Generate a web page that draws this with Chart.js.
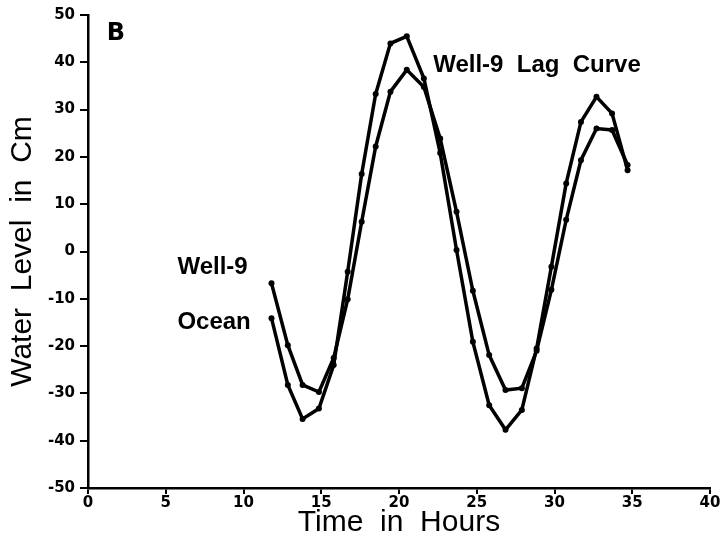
<!DOCTYPE html>
<html>
<head>
<meta charset="utf-8">
<script src="https://cdn.jsdelivr.net/npm/chart.js@4.4.1/dist/chart.umd.min.js"></script>
<style>
    body { margin: 0; background: #ffffff; }
    #wrap { width: 722px; height: 539px; }
</style>
</head>
<body>
<div id="wrap"><canvas id="wellLagChart" width="722" height="539"></canvas></div>
<script>
// hourly readings
const hours = [11.8, 12.85, 13.8, 14.85, 15.8, 16.7, 17.6, 18.5, 19.45, 20.5, 21.6, 22.65,
    23.7, 24.75, 25.8, 26.85, 27.9, 28.85, 29.8, 30.75, 31.7, 32.7, 33.7, 34.7];
const well9 = [-6.7, -19.8, -28.2, -29.7, -22.5, -10.1, 6.3, 22.2, 33.8, 38.4, 34.8, 23.9,
    8.4, -8.3, -21.9, -29.3, -28.9, -21, -8.1, 6.7, 19.3, 26.0, 25.7, 18.3];
const ocean = [-14.1, -28.2, -35.4, -33.2, -24, -4.3, 16.4, 33.3, 44.0, 45.5, 36.6, 20.8,
    0.3, -19.1, -32.5, -37.7, -33.5, -20.5, -3.2, 14.4, 27.4, 32.7, 29.2, 17.2];
const seriesNames = ['Well-9', 'Ocean'];

const tickFont = { family: '"DejaVu Sans", sans-serif', size: 15, weight: 'bold' };
const titleFont = { family: '"Liberation Sans", Arial, sans-serif', size: 30, weight: 'normal', lineHeight: 1 };

// text labels placed in data units
const curveLabels = {
    id: 'curveLabels',
    afterDraw(chart) {
        const ctx = chart.ctx;
        const x = chart.scales.x;
        const y = chart.scales.y;
        ctx.save();
        ctx.fillStyle = '#000000';
        ctx.textBaseline = 'middle';
        ctx.textAlign = 'left';
        ctx.font = 'bold 24px "Liberation Sans", Arial, sans-serif';
        ctx.fillText('Well-9  Lag  Curve', x.getPixelForValue(22.2), y.getPixelForValue(39.3));
        ctx.fillText(seriesNames[0], x.getPixelForValue(5.75), y.getPixelForValue(-3.4));
        ctx.fillText(seriesNames[1], x.getPixelForValue(5.75), y.getPixelForValue(-15.0));
        ctx.font = 'bold 24px "DejaVu Sans", sans-serif';
        ctx.fillText('B', x.getPixelForValue(1.2), y.getPixelForValue(46.0));
        ctx.restore();
    }
};

const wellLagChart = document.getElementById('wellLagChart');
new Chart(wellLagChart, {
    type: 'line',
    data: {
        datasets: [{
            label: seriesNames[0],
            data: hours.map((h, i) => ({ x: h, y: well9[i] })),
            borderColor: '#000000',
            backgroundColor: '#000000',
            borderWidth: 3.5,
            pointRadius: 3,
            pointBorderWidth: 0,
            tension: 0
        }, {
            label: seriesNames[1],
            data: hours.map((h, i) => ({ x: h, y: ocean[i] })),
            borderColor: '#000000',
            backgroundColor: '#000000',
            borderWidth: 3.5,
            pointRadius: 3,
            pointBorderWidth: 0,
            tension: 0
        }]
    },
    options: {
        responsive: false,
        animation: false,
        layout: {
            padding: { top: 15, right: 12, left: 0, bottom: 0 }
        },
        plugins: {
            legend: false,
            tooltip: {
                enabled: false
            }
        },
        scales: {
            x: {
                type: 'linear',
                min: 0,
                max: 40,
                afterFit: (scale) => { scale.height = 51; },
                grid: {
                    drawOnChartArea: false,
                    color: '#000000',
                    lineWidth: 2,
                    tickLength: 6
                },
                border: {
                    color: '#000000',
                    width: 2.5
                },
                ticks: {
                    stepSize: 5,
                    color: '#000000',
                    font: tickFont,
                    padding: 0,
                    maxRotation: 0
                },
                title: {
                    display: true,
                    text: 'Time  in  Hours',
                    color: '#000000',
                    font: titleFont,
                    padding: { top: 0, bottom: 1 }
                }
            },
            y: {
                min: -50,
                max: 50,
                afterFit: (scale) => { scale.width = 88; },
                grid: {
                    drawOnChartArea: false,
                    color: '#000000',
                    lineWidth: 2,
                    tickLength: 8
                },
                border: {
                    color: '#000000',
                    width: 2.5
                },
                ticks: {
                    stepSize: 10,
                    color: '#000000',
                    font: tickFont,
                    padding: 5
                },
                title: {
                    display: true,
                    text: 'Water  Level  in  Cm',
                    color: '#000000',
                    font: titleFont,
                    padding: { top: 8, bottom: 0 }
                }
            }
        }
    },
    plugins: [curveLabels]
});
</script>
</body>
</html>
